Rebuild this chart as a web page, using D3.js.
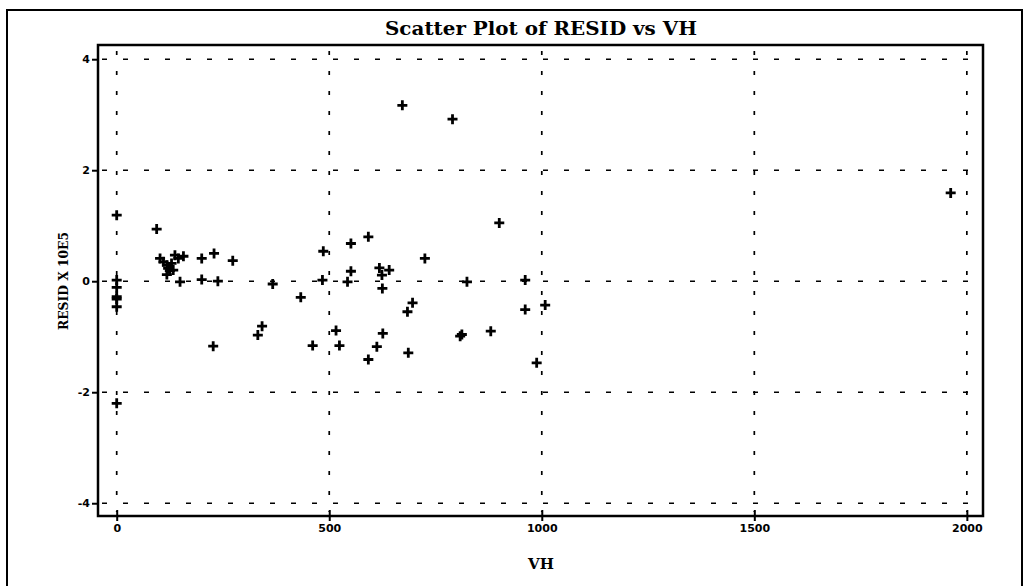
<!DOCTYPE html>
<html>
<head>
<meta charset="utf-8">
<script src="https://cdn.jsdelivr.net/npm/d3@7"></script>
<style>
  body { margin: 0; background: #fff; }
  svg { display: block; }
</style>
</head>
<body>
<svg id="chart" width="1025" height="586"></svg>
<script>
// values
var vh = [0, 0, 0, 0, 0, 0, 0,
  94, 102, 110, 118, 121, 125, 118, 133, 137, 145, 157, 129, 149, 200, 200, 229, 238, 273, 367, 433,
  227, 332, 342,
  486, 551, 592, 484, 543, 551, 618, 641, 624, 625, 725, 824, 961, 696, 684, 516, 626, 808, 812, 880,
  961, 1008, 461, 524, 612, 592, 686, 988,
  672, 790, 900, 1962];
var resid = [1.19, 0.02, -0.11, -0.28, -0.32, -0.46, -2.2,
  0.94, 0.41, 0.35, 0.29, 0.23, 0.19, 0.12, 0.20, 0.47, 0.41, 0.45, 0.32, -0.01, 0.41, 0.03, 0.50, 0.0, 0.37, -0.05, -0.29,
  -1.17, -0.97, -0.81,
  0.54, 0.68, 0.80, 0.02, -0.01, 0.18, 0.24, 0.20, 0.11, -0.13, 0.41, -0.01, 0.02, -0.39, -0.55, -0.89, -0.94, -0.99, -0.96, -0.90,
  -0.51, -0.43, -1.16, -1.16, -1.18, -1.41, -1.29, -1.47,
  3.17, 2.92, 1.05, 1.59];
var xTicks = [0, 500, 1000, 1500, 2000];
var yTicks = [-4, -2, 0, 2, 4];

var svg = d3.select("#chart");
var L = 98, R = 983, T = 45, B = 516;

var x = d3.scaleLinear().domain([-44, 2038]).range([L, R]);
var y = d3.scaleLinear().domain([-4.23, 4.256]).range([B, T]);

// outer frame
svg.append("rect")
    .attr("x", 7).attr("y", 10)
    .attr("width", 1015).attr("height", 600)
    .style("fill", "none").style("stroke", "#000").style("stroke-width", 2);

// grid
svg.append("g").selectAll("line").data(xTicks).enter().append("line")
    .attr("x1", function(d){ return x(d); }).attr("x2", function(d){ return x(d); })
    .attr("y1", T + 6).attr("y2", B - 4)
    .style("stroke", "#000").style("stroke-width", 1.7)
    .style("stroke-dasharray", "4,16");
svg.append("g").selectAll("line").data(yTicks).enter().append("line")
    .attr("y1", function(d){ return y(d); }).attr("y2", function(d){ return y(d); })
    .attr("x1", L + 4).attr("x2", R - 4)
    .style("stroke", "#000").style("stroke-width", 1.5)
    .style("stroke-dasharray", "5,16");

// axes
var xAxis = d3.axisBottom(x).tickValues(xTicks).tickSizeInner(5).tickSizeOuter(0).tickPadding(3)
    .tickFormat(d3.format("d"));
var yAxis = d3.axisLeft(y).tickValues(yTicks).tickSizeInner(6).tickSizeOuter(0).tickPadding(2)
    .tickFormat(function(d){ return d < 0 ? "-" + Math.abs(d) : d; });

var gx = svg.append("g").attr("transform", "translate(0," + B + ")").call(xAxis);
var gy = svg.append("g").attr("transform", "translate(" + L + ",0)").call(yAxis);
[gx, gy].forEach(function(g){
    g.select(".domain").remove();
    g.selectAll(".tick line").style("stroke", "#000").style("stroke-width", 2);
    g.selectAll(".tick text")
        .style("font-family", "DejaVu Sans").style("font-weight", "bold")
        .style("font-size", "11px").style("fill", "#000");
});
gx.selectAll(".tick line").attr("y1", -6);

// plot box
svg.append("rect")
    .attr("x", L).attr("y", T)
    .attr("width", R - L).attr("height", B - T)
    .style("fill", "none").style("stroke", "#000").style("stroke-width", 2.5);

// points, drawn as bold plus signs
var pts = vh.map(function(v, i){ return [v, resid[i]]; });
svg.append("g").selectAll("path").data(pts).enter().append("path")
    .attr("d", function(d){
        var cx = x(d[0]), cy = y(d[1]);
        return "M" + (cx - 5) + "," + cy + "H" + (cx + 5) + "M" + cx + "," + (cy - 5) + "V" + (cy + 5);
    })
    .style("stroke", "#000").style("stroke-width", 2.8).style("fill", "none");

// titles
svg.append("text")
    .text("Scatter Plot of RESID vs VH")
    .attr("x", 541).attr("y", 35)
    .attr("text-anchor", "middle")
    .attr("textLength", 312).attr("lengthAdjust", "spacingAndGlyphs")
    .style("font-family", "DejaVu Serif").style("font-weight", "bold")
    .style("font-size", "19px").style("fill", "#000");

svg.append("text")
    .text("VH")
    .attr("x", 541).attr("y", 569)
    .attr("text-anchor", "middle")
    .style("font-family", "DejaVu Serif").style("font-weight", "bold")
    .style("font-size", "15px").style("fill", "#000");

svg.append("text")
    .text("RESID X 10E5")
    .attr("transform", "translate(68,281) rotate(-90)")
    .attr("text-anchor", "middle")
    .attr("textLength", 98).attr("lengthAdjust", "spacingAndGlyphs")
    .style("font-family", "DejaVu Serif").style("font-weight", "bold")
    .style("font-size", "13px").style("fill", "#000");
</script>
</body>
</html>
